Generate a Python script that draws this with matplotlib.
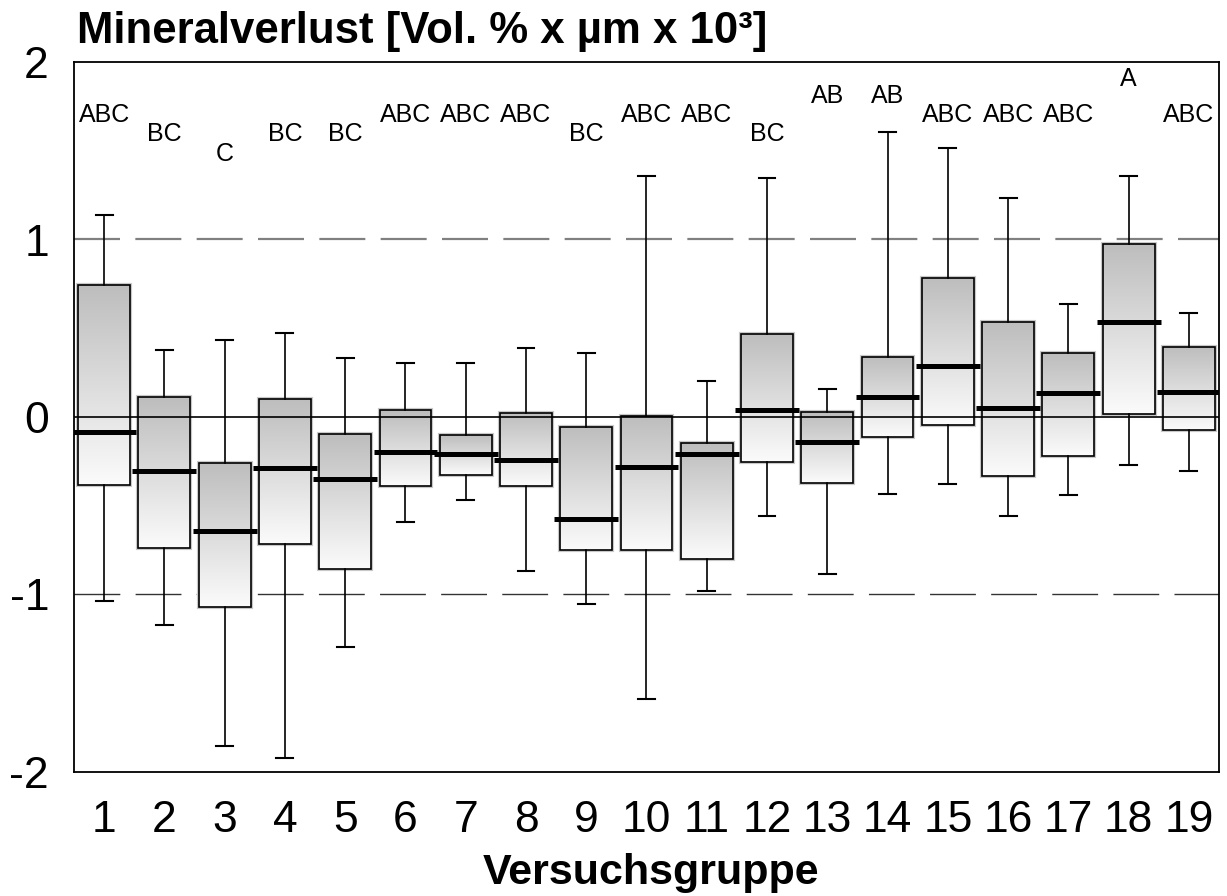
import numpy as np
import matplotlib
matplotlib.use("Agg")
import matplotlib.pyplot as plt
from matplotlib.patches import Rectangle

plt.rcParams['font.family'] = ['Liberation Sans', 'DejaVu Sans']

groups = [str(i) for i in range(1, 20)]
q3 = [0.746, 0.110, -0.258, 0.102, -0.095, 0.037, -0.102, 0.025, -0.054, 0.008,
      -0.149, 0.467, 0.029, 0.337, 0.784, 0.534, 0.360, 0.977, 0.397]
median = [-0.082, -0.303, -0.643, -0.286, -0.352, -0.198, -0.206, -0.241, -0.576, -0.279,
          -0.207, 0.037, -0.142, 0.112, 0.288, 0.052, 0.136, 0.538, 0.142]
q1 = [-0.384, -0.737, -1.071, -0.718, -0.854, -0.388, -0.324, -0.388, -0.752, -0.750,
      -0.799, -0.255, -0.371, -0.115, -0.046, -0.330, -0.217, 0.016, -0.072]
whisker_hi = [1.137, 0.380, 0.431, 0.476, 0.333, 0.307, 0.305, 0.390, 0.360, 1.359,
              0.200, 1.344, 0.159, 1.605, 1.518, 1.231, 0.638, 1.357, 0.587]
whisker_lo = [-1.034, -1.171, -1.856, -1.922, -1.293, -0.593, -0.470, -0.870, -1.051, -1.586,
              -0.979, -0.555, -0.887, -0.433, -0.378, -0.559, -0.442, -0.270, -0.305]
letters = ["ABC", "BC", "C", "BC", "BC", "ABC", "ABC", "ABC", "BC", "ABC",
           "ABC", "BC", "AB", "AB", "ABC", "ABC", "ABC", "A", "ABC"]

# height of the significance letters, by letter group
letter_level = {"A": 1.907, "AB": 1.811, "ABC": 1.704, "BC": 1.597, "C": 1.479}

fig = plt.figure(figsize=(12.27, 8.96), dpi=100)
ax = fig.add_axes([74 / 1227, 124 / 896, 1145 / 1227, 710 / 896])

ax.set_xlim(0.5, 19.5)
ax.set_ylim(-2, 2)

grad = np.linspace(0, 1, 256).reshape(-1, 1)
cmap = matplotlib.colors.LinearSegmentedColormap.from_list("g", ["#fbfbfb", "#bdbdbd"])

bw = 0.86
mw = 1.06
cw = 0.28
for i in range(len(groups)):
    x = i + 1
    # light shadow around box
    ax.add_patch(Rectangle((x - bw / 2, q1[i]), bw, q3[i] - q1[i], fill=False,
                           edgecolor="#c8c8c8", lw=3.0, zorder=2))
    ax.imshow(grad, extent=[x - bw / 2, x + bw / 2, q1[i], q3[i]], origin="lower",
              aspect="auto", cmap=cmap, vmin=0, vmax=1, zorder=2.5, interpolation="bilinear")
    ax.add_patch(Rectangle((x - bw / 2, q1[i]), bw, q3[i] - q1[i], fill=False,
                           edgecolor="black", lw=1.2, zorder=3))
    ax.plot([x, x], [q3[i], whisker_hi[i]], color="black", lw=1.2, zorder=3)
    ax.plot([x, x], [q1[i], whisker_lo[i]], color="black", lw=1.2, zorder=3)
    ax.plot([x - cw / 2, x + cw / 2], [whisker_hi[i]] * 2, color="black", lw=1.5, zorder=3)
    ax.plot([x - cw / 2, x + cw / 2], [whisker_lo[i]] * 2, color="black", lw=1.5, zorder=3)
    ax.plot([x - mw / 2, x + mw / 2], [median[i]] * 2, color="black", lw=3.6,
            solid_capstyle="butt", zorder=5)
    ax.text(x, letter_level[letters[i]], letters[i], ha="center", va="center",
            fontsize=18, zorder=6)

ax.axhline(0, color="black", lw=1.2, zorder=4)
ax.axhline(1, color="#808080", lw=1.6, linestyle=(0, (20.7, 6.9)), zorder=1)
ax.axhline(-1, color="#333333", lw=1.0, linestyle=(0, (33, 11)), zorder=1)

ax.set_xticks(range(1, 20))
ax.set_xticklabels(groups, fontsize=32)
ax.set_yticks([-2, -1, 0, 1, 2])
ax.set_yticklabels(["-2", "-1", "0", "1", "2"], fontsize=32)
ax.tick_params(axis="x", length=0, pad=20)
ax.tick_params(axis="y", length=0, pad=18)
for s in ax.spines.values():
    s.set_linewidth(1.3)

fig.text(77 / 1227, 1 - 43 / 896, "Mineralverlust [Vol. % x µm x 10³]",
         fontsize=31.5, fontweight="bold", ha="left", va="baseline")
fig.text(651 / 1227, 1 - 884 / 896, "Versuchsgruppe",
         fontsize=31, fontweight="bold", ha="center", va="baseline")

fig.savefig("out.png", dpi=100)
